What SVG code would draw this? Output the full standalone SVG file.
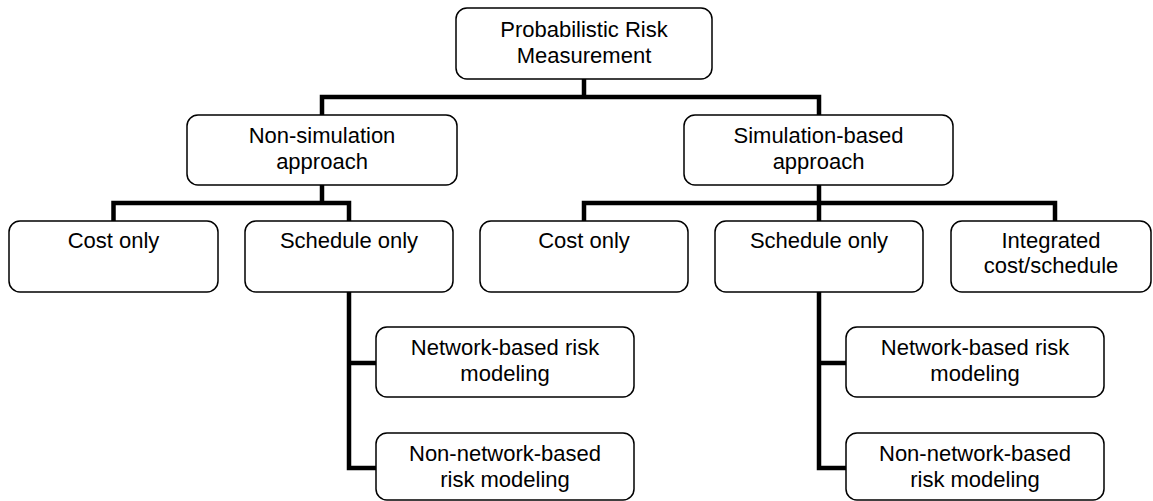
<svg xmlns="http://www.w3.org/2000/svg" width="1153" height="501" viewBox="0 0 1153 501">
  <style>
    .box { fill: #ffffff; stroke: #000000; stroke-width: 1.5; }
    .lbl { font-family: "Liberation Sans", Arial, sans-serif; font-size: 22px; fill: #000000; text-anchor: middle; }
    .wire { fill: none; stroke: #000000; stroke-width: 4.5; stroke-linejoin: miter; stroke-linecap: butt; }
  </style>
  <rect width="1153" height="501" fill="#ffffff"/>

  <!-- connectors -->
  <g id="connectors">
    <path class="wire" d="M584 79 V97"/>
    <path class="wire" d="M322 115 V97 H819 V115"/>
    <path class="wire" d="M322 185 V203"/>
    <path class="wire" d="M113.5 221 V203 H349 V221"/>
    <path class="wire" d="M819 185 V203"/>
    <path class="wire" d="M584 221 V203 H1055 V221"/>
    <path class="wire" d="M819 203 V221"/>
    <path class="wire" d="M349 292 V468 H376"/>
    <path class="wire" d="M349 363 H376"/>
    <path class="wire" d="M819 292 V468 H846"/>
    <path class="wire" d="M819 363 H846"/>
  </g>

  <g id="root">
    <rect class="box" x="456" y="8" width="256" height="71" rx="11"/>
    <text class="lbl" x="584" y="37">Probabilistic Risk</text>
    <text class="lbl" x="584" y="63">Measurement</text>
  </g>

  <g id="non-simulation">
    <rect class="box" x="187" y="115" width="270" height="70" rx="11"/>
    <text class="lbl" x="322" y="143">Non-simulation</text>
    <text class="lbl" x="322" y="169">approach</text>
  </g>

  <g id="simulation">
    <rect class="box" x="684" y="115" width="269" height="70" rx="11"/>
    <text class="lbl" x="818.5" y="143">Simulation-based</text>
    <text class="lbl" x="818.5" y="169">approach</text>
  </g>

  <g id="ns-cost">
    <rect class="box" x="9" y="221" width="209" height="71" rx="11"/>
    <text class="lbl" x="113.5" y="248">Cost only</text>
  </g>

  <g id="ns-schedule">
    <rect class="box" x="245" y="221" width="208" height="71" rx="11"/>
    <text class="lbl" x="349" y="248">Schedule only</text>
  </g>

  <g id="s-cost">
    <rect class="box" x="480" y="221" width="208" height="71" rx="11"/>
    <text class="lbl" x="584" y="248">Cost only</text>
  </g>

  <g id="s-schedule">
    <rect class="box" x="715" y="221" width="208" height="71" rx="11"/>
    <text class="lbl" x="819" y="248">Schedule only</text>
  </g>

  <g id="s-integrated">
    <rect class="box" x="951" y="221" width="200" height="71" rx="11"/>
    <text class="lbl" x="1051" y="248">Integrated</text>
    <text class="lbl" x="1051" y="273">cost/schedule</text>
  </g>

  <g id="ns-network">
    <rect class="box" x="376" y="327" width="258" height="70" rx="11"/>
    <text class="lbl" x="505" y="355">Network-based risk</text>
    <text class="lbl" x="505" y="381">modeling</text>
  </g>

  <g id="ns-non-network">
    <rect class="box" x="376" y="433" width="258" height="67" rx="11"/>
    <text class="lbl" x="505" y="461">Non-network-based</text>
    <text class="lbl" x="505" y="487">risk modeling</text>
  </g>

  <g id="s-network">
    <rect class="box" x="846" y="327" width="258" height="70" rx="11"/>
    <text class="lbl" x="975" y="355">Network-based risk</text>
    <text class="lbl" x="975" y="381">modeling</text>
  </g>

  <g id="s-non-network">
    <rect class="box" x="846" y="433" width="258" height="67" rx="11"/>
    <text class="lbl" x="975" y="461">Non-network-based</text>
    <text class="lbl" x="975" y="487">risk modeling</text>
  </g>
</svg>
